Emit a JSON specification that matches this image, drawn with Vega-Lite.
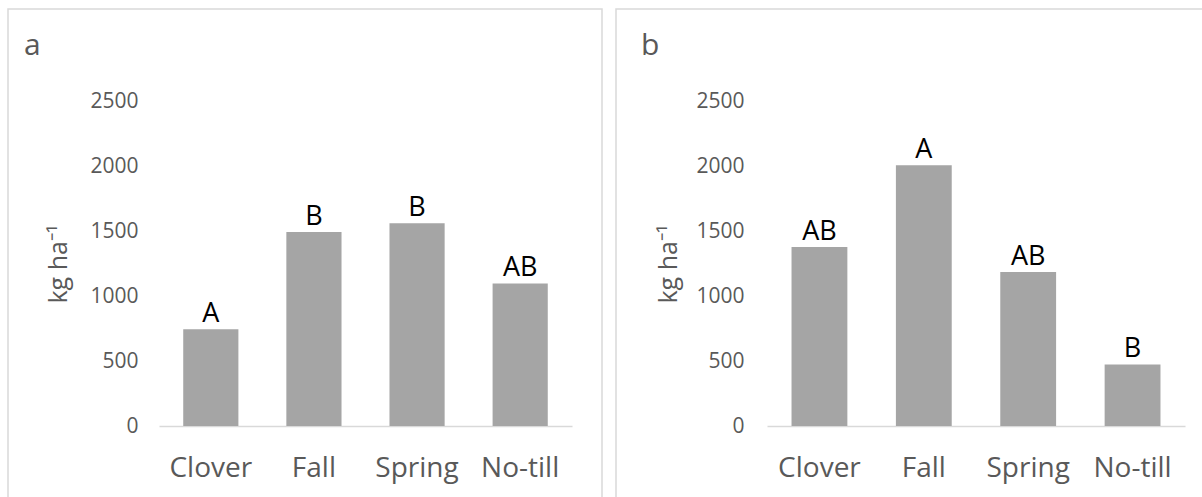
{
  "$schema": "https://vega.github.io/schema/vega-lite/v6.json",
  "padding": {"left": 7, "top": 8, "right": 0, "bottom": 0},
  "spacing": 12,
  "background": "white",
  "config": {
    "view": {"stroke": "#d9d9d9", "strokeWidth": 1.5},
    "font": "Open Sans"
  },
  "datasets": {
    "a": [
      {"treatment": "Clover", "kg": 744, "letter": "A"},
      {"treatment": "Fall", "kg": 1492, "letter": "B"},
      {"treatment": "Spring", "kg": 1559, "letter": "B"},
      {"treatment": "No-till", "kg": 1097, "letter": "AB"}
    ],
    "b": [
      {"treatment": "Clover", "kg": 1377, "letter": "AB"},
      {"treatment": "Fall", "kg": 2005, "letter": "A"},
      {"treatment": "Spring", "kg": 1185, "letter": "AB"},
      {"treatment": "No-till", "kg": 474, "letter": "B"}
    ]
  },
  "hconcat": [
    {
      "width": 594,
      "height": 492,
      "title": {"text": "a", "anchor": "start", "frame": "group", "orient": "top", "offset": -47, "dx": 16, "dy": 29, "baseline": "alphabetic", "fontSize": 30, "fontWeight": "normal", "color": "#595959", "font": "Open Sans"},
      "data": {"name": "a"},
      "encoding": {
        "x": {
          "field": "treatment", "type": "nominal", "sort": null,
          "scale": {"range": [151, 564], "paddingInner": 0.465, "paddingOuter": 0.235},
          "axis": {"orient": "bottom", "offset": -75, "domainColor": "#d9d9d9", "domainWidth": 1.5, "ticks": false, "tickSize": 0, "labelAngle": 0, "labelFontSize": 28, "labelColor": "#595959", "labelFont": "Open Sans", "labelPadding": 50, "labelBaseline": "alphabetic", "labelOverlap": false, "title": null, "grid": false}
        },
        "y": {
          "field": "kg", "type": "quantitative",
          "scale": {"domain": [0, 2500], "range": [417, 92], "nice": false},
          "axis": {"values": [0, 500, 1000, 1500, 2000, 2500], "format": "d", "domain": false, "ticks": false, "tickSize": 0, "grid": false, "offset": -130, "labelPadding": 0, "labelFontSize": 21, "labelColor": "#595959", "labelFont": "Open Sans", "labelBaseline": "middle", "labelOverlap": false, "title": "kg ha⁻¹", "titleFont": "Open Sans", "titleFontSize": 25, "titleFontWeight": "normal", "titleColor": "#595959", "titleX": -80, "titleY": 254.5, "titleAngle": 270, "titleAlign": "center", "titleBaseline": "middle"}
        }
      },
      "layer": [
        {"mark": {"type": "bar", "color": "#a5a5a5"}},
        {"mark": {"type": "text", "font": "Open Sans", "fontSize": 27, "color": "black", "baseline": "alphabetic", "dy": -7}, "encoding": {"text": {"field": "letter"}}}
      ]
    },
    {
      "width": 594,
      "height": 492,
      "title": {"text": "b", "anchor": "start", "frame": "group", "orient": "top", "offset": -47, "dx": 25, "dy": 29, "baseline": "alphabetic", "fontSize": 30, "fontWeight": "normal", "color": "#595959", "font": "Open Sans"},
      "data": {"name": "b"},
      "encoding": {
        "x": {
          "field": "treatment", "type": "nominal", "sort": null,
          "scale": {"range": [151, 569], "paddingInner": 0.465, "paddingOuter": 0.235},
          "axis": {"orient": "bottom", "offset": -75, "domainColor": "#d9d9d9", "domainWidth": 1.5, "ticks": false, "tickSize": 0, "labelAngle": 0, "labelFontSize": 28, "labelColor": "#595959", "labelFont": "Open Sans", "labelPadding": 50, "labelBaseline": "alphabetic", "labelOverlap": false, "title": null, "grid": false}
        },
        "y": {
          "field": "kg", "type": "quantitative",
          "scale": {"domain": [0, 2500], "range": [417, 92], "nice": false},
          "axis": {"values": [0, 500, 1000, 1500, 2000, 2500], "format": "d", "domain": false, "ticks": false, "tickSize": 0, "grid": false, "offset": -128, "labelPadding": 0, "labelFontSize": 21, "labelColor": "#595959", "labelFont": "Open Sans", "labelBaseline": "middle", "labelOverlap": false, "title": "kg ha⁻¹", "titleFont": "Open Sans", "titleFontSize": 25, "titleFontWeight": "normal", "titleColor": "#595959", "titleX": -76, "titleY": 254.5, "titleAngle": 270, "titleAlign": "center", "titleBaseline": "middle"}
        }
      },
      "layer": [
        {"mark": {"type": "bar", "color": "#a5a5a5"}},
        {"mark": {"type": "text", "font": "Open Sans", "fontSize": 27, "color": "black", "baseline": "alphabetic", "dy": -7}, "encoding": {"text": {"field": "letter"}}}
      ]
    }
  ]
}
